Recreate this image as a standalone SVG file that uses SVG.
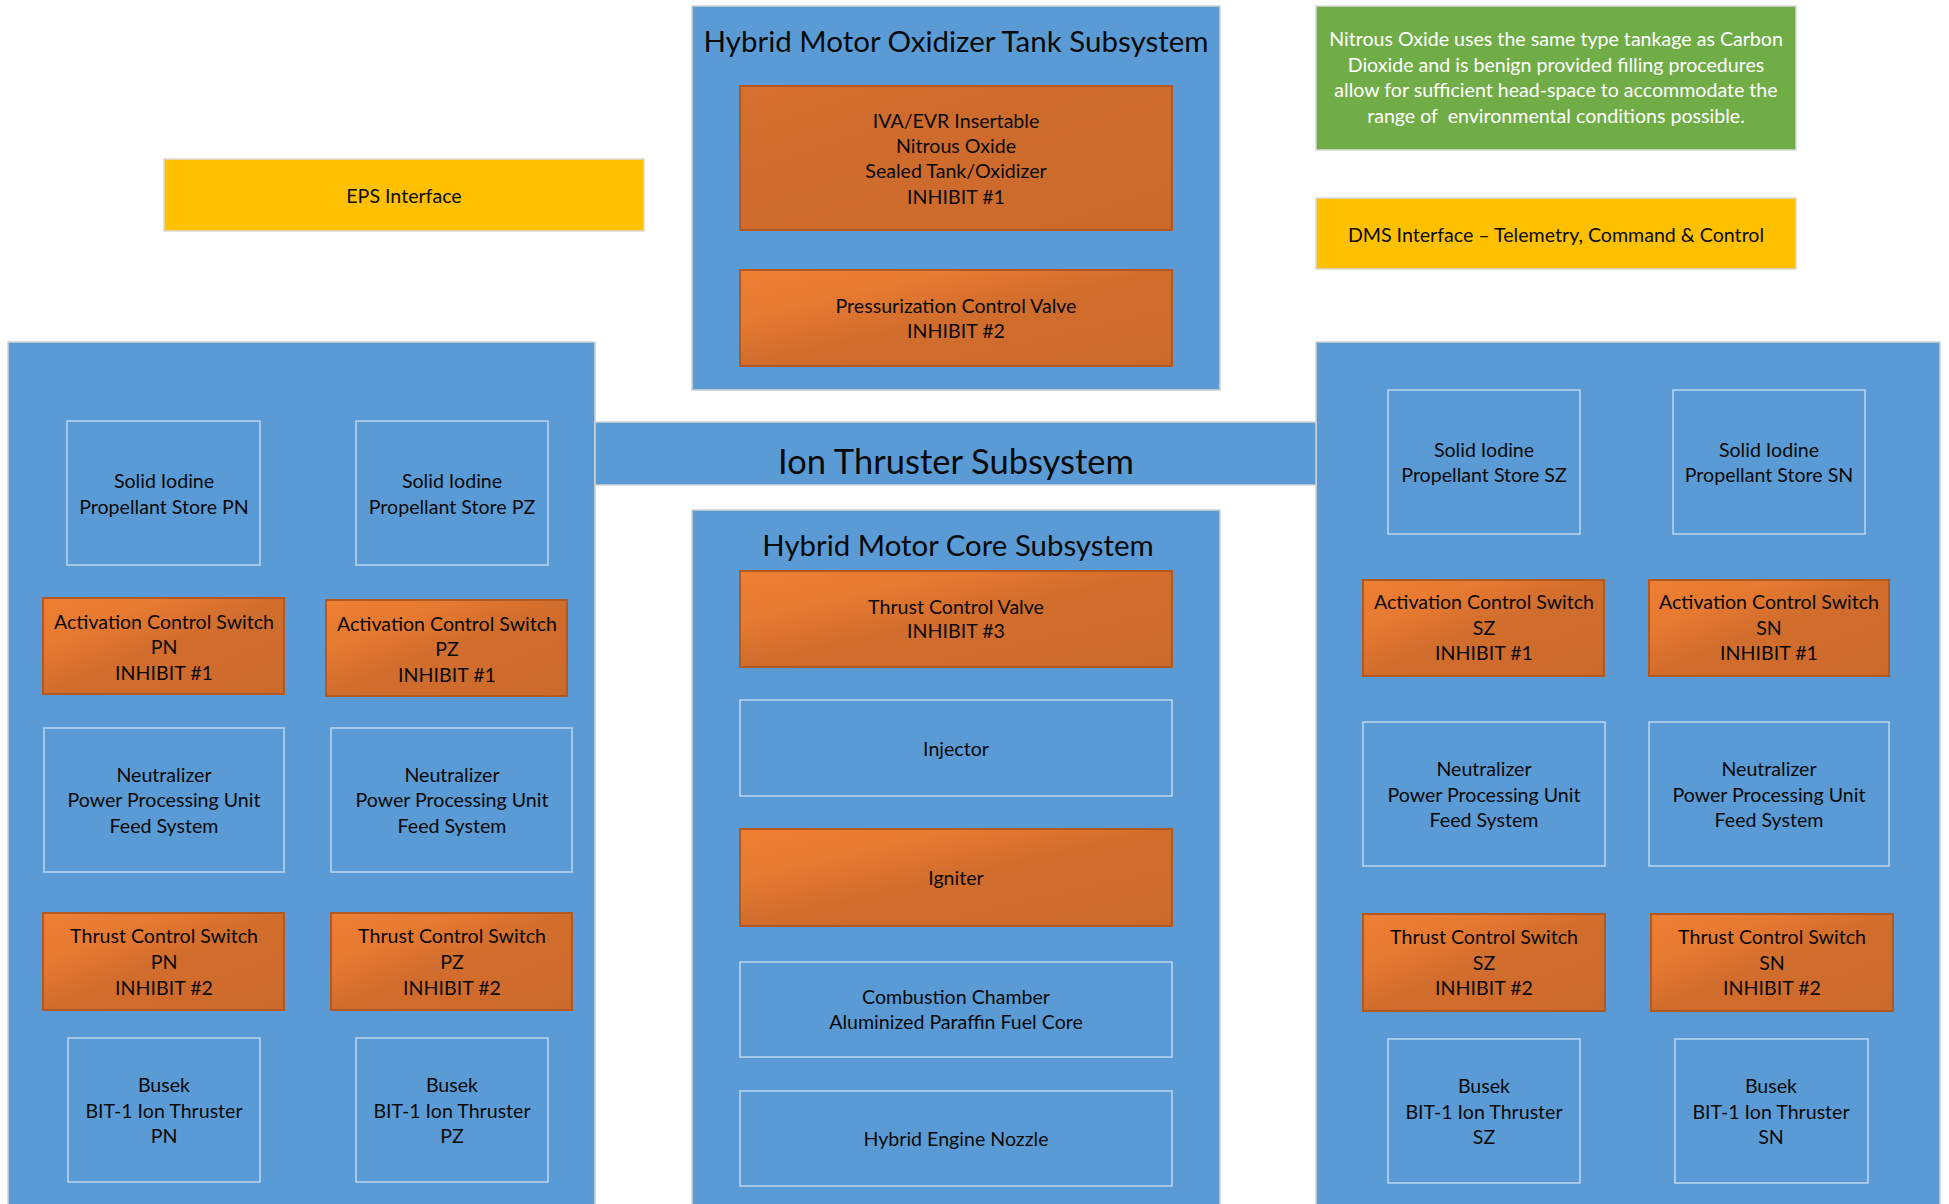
<svg xmlns="http://www.w3.org/2000/svg" width="1949" height="1204" viewBox="0 0 1949 1204">
  <defs>
    <linearGradient id="og" x1="0" y1="0" x2="1" y2="1">
      <stop offset="0" stop-color="#EE7F33"/>
      <stop offset="0.25" stop-color="#E77A31"/>
      <stop offset="0.5" stop-color="#D16D2D"/>
      <stop offset="1" stop-color="#CC6A2C"/>
    </linearGradient>
    <linearGradient id="og2" x1="0" y1="0" x2="1" y2="1">
      <stop offset="0" stop-color="#D8702E"/>
      <stop offset="0.3" stop-color="#CF6C2D"/>
      <stop offset="1" stop-color="#CC6A2C"/>
    </linearGradient>
    <style>
      .panel { fill: #5B9BD5; stroke: #D2D2D2; stroke-width: 1.5; }
      .box { fill: #5B9BD5; stroke: #BFD6EE; stroke-width: 1.5; }
      .inh { fill: url(#og); stroke: #B3581F; stroke-width: 2; }
      .t { font-family: Lato, "Open Sans", "Liberation Sans", sans-serif; font-size: 19.6px; fill: #0A0A0A; text-anchor: middle; }
      .title { font-family: Lato, "Open Sans", "Liberation Sans", sans-serif; fill: #0A0A0A; text-anchor: middle; }
      .w { fill: #FFFFFF; }
    </style>
  </defs>

  <rect x="0" y="0" width="1949" height="1204" fill="#FFFFFF"/>

  <!-- Interfaces and note -->
  <g id="eps-interface">
    <rect x="164" y="159" width="480" height="72" fill="#FFC000" stroke="#D9D9D9" stroke-width="1.5"/>
    <text class="t" x="404" y="203">EPS Interface</text>
  </g>
  <g id="dms-interface">
    <rect x="1316" y="198" width="480" height="71" fill="#FFC000" stroke="#D9D9D9" stroke-width="1.5"/>
    <text class="t" x="1556" y="242">DMS Interface – Telemetry, Command &amp; Control</text>
  </g>
  <g id="nitrous-note">
    <rect x="1316" y="6" width="480" height="144" fill="#70AD47" stroke="#D9D9D9" stroke-width="1.5"/>
    <text class="t w" x="1556" y="46">Nitrous Oxide uses the same type tankage as Carbon</text>
    <text class="t w" x="1556" y="72">Dioxide and is benign provided filling procedures</text>
    <text class="t w" x="1556" y="97">allow for sufficient head-space to accommodate the</text>
    <text class="t w" x="1556" y="123" xml:space="preserve">range of  environmental conditions possible.</text>
  </g>

  <!-- Hybrid motor oxidizer tank subsystem -->
  <g id="oxidizer-tank-subsystem">
    <rect class="panel" x="692" y="6" width="528" height="384"/>
    <text class="title" x="956" y="52" font-size="29.5">Hybrid Motor Oxidizer Tank Subsystem</text>
  </g>
  <g id="sealed-tank">
    <rect class="inh" x="740" y="86" width="432" height="144" style="fill:url(#og2)"/>
    <text class="t" x="956" y="128">IVA/EVR Insertable</text>
    <text class="t" x="956" y="153">Nitrous Oxide</text>
    <text class="t" x="956" y="178">Sealed Tank/Oxidizer</text>
    <text class="t" x="956" y="204">INHIBIT #1</text>
  </g>
  <g id="pressurization-valve">
    <rect class="inh" x="740" y="270" width="432" height="96"/>
    <text class="t" x="956" y="313">Pressurization Control Valve</text>
    <text class="t" x="956" y="338">INHIBIT #2</text>
  </g>

  <!-- Ion thruster subsystem: left panel, right panel and title bar -->
  <g id="ion-left-panel">
    <rect class="panel" x="8" y="342" width="587" height="870"/>
  </g>
  <g id="ion-right-panel">
    <rect class="panel" x="1316" y="342" width="624" height="870"/>
  </g>
  <g id="ion-thruster-subsystem">
    <rect class="panel" x="595" y="422" width="721" height="63"/>
    <text class="title" x="956" y="474" font-size="34.5">Ion Thruster Subsystem</text>
  </g>

  <!-- Left thruster pair (PN / PZ) -->
  <g id="store-pn">
    <rect class="box" x="67" y="421" width="193" height="144"/>
    <text class="t" x="164" y="488">Solid Iodine</text>
    <text class="t" x="164" y="514">Propellant Store PN</text>
  </g>
  <g id="store-pz">
    <rect class="box" x="356" y="421" width="192" height="144"/>
    <text class="t" x="452" y="488">Solid Iodine</text>
    <text class="t" x="452" y="514">Propellant Store PZ</text>
  </g>
  <g id="activation-pn">
    <rect class="inh" x="43" y="598" width="241" height="96"/>
    <text class="t" x="164" y="629">Activation Control Switch</text>
    <text class="t" x="164" y="654">PN</text>
    <text class="t" x="164" y="680">INHIBIT #1</text>
  </g>
  <g id="activation-pz">
    <rect class="inh" x="326" y="600" width="241" height="96"/>
    <text class="t" x="447" y="631">Activation Control Switch</text>
    <text class="t" x="447" y="656">PZ</text>
    <text class="t" x="447" y="682">INHIBIT #1</text>
  </g>
  <g id="neutralizer-pn">
    <rect class="box" x="44" y="728" width="240" height="144"/>
    <text class="t" x="164" y="782">Neutralizer</text>
    <text class="t" x="164" y="807">Power Processing Unit</text>
    <text class="t" x="164" y="833">Feed System</text>
  </g>
  <g id="neutralizer-pz">
    <rect class="box" x="331" y="728" width="241" height="144"/>
    <text class="t" x="452" y="782">Neutralizer</text>
    <text class="t" x="452" y="807">Power Processing Unit</text>
    <text class="t" x="452" y="833">Feed System</text>
  </g>
  <g id="thrust-switch-pn">
    <rect class="inh" x="43" y="913" width="241" height="97"/>
    <text class="t" x="164" y="943">Thrust Control Switch</text>
    <text class="t" x="164" y="969">PN</text>
    <text class="t" x="164" y="995">INHIBIT #2</text>
  </g>
  <g id="thrust-switch-pz">
    <rect class="inh" x="331" y="913" width="241" height="97"/>
    <text class="t" x="452" y="943">Thrust Control Switch</text>
    <text class="t" x="452" y="969">PZ</text>
    <text class="t" x="452" y="995">INHIBIT #2</text>
  </g>
  <g id="thruster-pn">
    <rect class="box" x="68" y="1038" width="192" height="144"/>
    <text class="t" x="164" y="1092">Busek</text>
    <text class="t" x="164" y="1118">BIT-1 Ion Thruster</text>
    <text class="t" x="164" y="1143">PN</text>
  </g>
  <g id="thruster-pz">
    <rect class="box" x="356" y="1038" width="192" height="144"/>
    <text class="t" x="452" y="1092">Busek</text>
    <text class="t" x="452" y="1118">BIT-1 Ion Thruster</text>
    <text class="t" x="452" y="1143">PZ</text>
  </g>

  <!-- Right thruster pair (SZ / SN) -->
  <g id="store-sz">
    <rect class="box" x="1388" y="390" width="192" height="144"/>
    <text class="t" x="1484" y="457">Solid Iodine</text>
    <text class="t" x="1484" y="482">Propellant Store SZ</text>
  </g>
  <g id="store-sn">
    <rect class="box" x="1673" y="390" width="192" height="144"/>
    <text class="t" x="1769" y="457">Solid Iodine</text>
    <text class="t" x="1769" y="482">Propellant Store SN</text>
  </g>
  <g id="activation-sz">
    <rect class="inh" x="1363" y="580" width="241" height="96"/>
    <text class="t" x="1484" y="609">Activation Control Switch</text>
    <text class="t" x="1484" y="635">SZ</text>
    <text class="t" x="1484" y="660">INHIBIT #1</text>
  </g>
  <g id="activation-sn">
    <rect class="inh" x="1649" y="580" width="240" height="96"/>
    <text class="t" x="1769" y="609">Activation Control Switch</text>
    <text class="t" x="1769" y="635">SN</text>
    <text class="t" x="1769" y="660">INHIBIT #1</text>
  </g>
  <g id="neutralizer-sz">
    <rect class="box" x="1363" y="722" width="242" height="144"/>
    <text class="t" x="1484" y="776">Neutralizer</text>
    <text class="t" x="1484" y="802">Power Processing Unit</text>
    <text class="t" x="1484" y="827">Feed System</text>
  </g>
  <g id="neutralizer-sn">
    <rect class="box" x="1649" y="722" width="240" height="144"/>
    <text class="t" x="1769" y="776">Neutralizer</text>
    <text class="t" x="1769" y="802">Power Processing Unit</text>
    <text class="t" x="1769" y="827">Feed System</text>
  </g>
  <g id="thrust-switch-sz">
    <rect class="inh" x="1363" y="914" width="242" height="97"/>
    <text class="t" x="1484" y="944">Thrust Control Switch</text>
    <text class="t" x="1484" y="970">SZ</text>
    <text class="t" x="1484" y="995">INHIBIT #2</text>
  </g>
  <g id="thrust-switch-sn">
    <rect class="inh" x="1651" y="914" width="242" height="97"/>
    <text class="t" x="1772" y="944">Thrust Control Switch</text>
    <text class="t" x="1772" y="970">SN</text>
    <text class="t" x="1772" y="995">INHIBIT #2</text>
  </g>
  <g id="thruster-sz">
    <rect class="box" x="1388" y="1039" width="192" height="144"/>
    <text class="t" x="1484" y="1093">Busek</text>
    <text class="t" x="1484" y="1119">BIT-1 Ion Thruster</text>
    <text class="t" x="1484" y="1144">SZ</text>
  </g>
  <g id="thruster-sn">
    <rect class="box" x="1675" y="1039" width="193" height="144"/>
    <text class="t" x="1771" y="1093">Busek</text>
    <text class="t" x="1771" y="1119">BIT-1 Ion Thruster</text>
    <text class="t" x="1771" y="1144">SN</text>
  </g>

  <!-- Hybrid motor core subsystem -->
  <g id="core-subsystem">
    <rect class="panel" x="692" y="510" width="528" height="702"/>
    <text class="title" x="958" y="556" font-size="29.4">Hybrid Motor Core Subsystem</text>
  </g>
  <g id="thrust-valve">
    <rect class="inh" x="740" y="571" width="432" height="96"/>
    <text class="t" x="956" y="614">Thrust Control Valve</text>
    <text class="t" x="956" y="638">INHIBIT #3</text>
  </g>
  <g id="injector">
    <rect class="box" x="740" y="700" width="432" height="96"/>
    <text class="t" x="956" y="756">Injector</text>
  </g>
  <g id="igniter">
    <rect class="inh" x="740" y="829" width="432" height="97"/>
    <text class="t" x="956" y="885">Igniter</text>
  </g>
  <g id="combustion-chamber">
    <rect class="box" x="740" y="962" width="432" height="95"/>
    <text class="t" x="956" y="1004">Combustion Chamber</text>
    <text class="t" x="956" y="1029">Aluminized Paraffin Fuel Core</text>
  </g>
  <g id="nozzle">
    <rect class="box" x="740" y="1091" width="432" height="95"/>
    <text class="t" x="956" y="1146">Hybrid Engine Nozzle</text>
  </g>
</svg>
